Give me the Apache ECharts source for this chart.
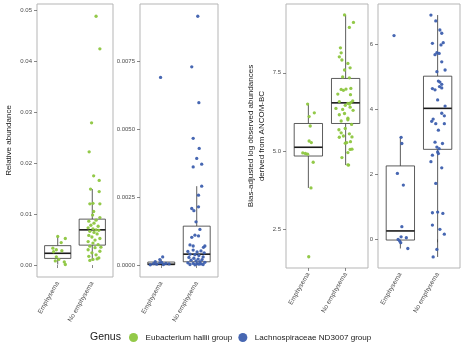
<!DOCTYPE html>
<html><head><meta charset="utf-8">
<script src="https://cdn.jsdelivr.net/npm/echarts@6/dist/echarts.min.js"></script>
<style>html,body{margin:0;padding:0;background:#fff}#c{width:464px;height:348px}</style>
</head><body><div id="c"></div>
<script>
const categories = ['Emphysema', 'No emphysema'];
const genusNames = ['Eubacterium hallii group', 'Lachnospiraceae ND3007 group'];
const genusColors = ['#8dc63f', '#3d5fae'];

// Panel 1: Eubacterium hallii group, relative abundance
const p1EmphX = [1.00, 1.22, 1.10, 0.86, 0.96, 0.88, 1.12, 0.96, 1.03, 0.93, 1.19, 1.22];
const p1EmphY = [0.0056, 0.0052, 0.0044, 0.0033, 0.0030, 0.0026, 0.0028, 0.0016, 0.0011, 0.0008, 0.0006, 0.0001];
const p1NoX = [2.11, 2.22, 1.98, 1.91, 2.04, 2.20, 1.95, 2.20, 1.93, 2.02, 2.22, 2.04, 2.01,
  2.22, 2.11, 1.90, 2.05, 1.96, 2.17, 1.88, 2.02, 2.11, 2.19, 1.93, 2.05, 2.14, 1.90, 1.99, 2.22,
  2.08, 1.88, 2.02, 2.17, 1.93, 2.08, 1.88, 2.22, 1.99, 2.11, 1.90, 2.19, 2.02, 1.93, 2.14, 2.25];
const p1NoY = [0.0488, 0.0424, 0.0279, 0.0222, 0.0175, 0.0166, 0.0149, 0.0144, 0.0120, 0.0121, 0.0120, 0.0105, 0.0098,
  0.0093, 0.0088, 0.0086, 0.0082, 0.0078, 0.0076, 0.0073, 0.0071, 0.0069, 0.0068, 0.0066, 0.0064, 0.0061, 0.0058, 0.0055, 0.0052,
  0.0049, 0.0046, 0.0043, 0.0040, 0.0037, 0.0034, 0.0030, 0.0027, 0.0024, 0.0020, 0.0017, 0.0014, 0.0011, 0.0009, 0.0012, 0.0035];
const p1Box = [[0.0001, 0.0013, 0.0023, 0.0038, 0.0056], [0.0009, 0.0039, 0.0069, 0.0090, 0.0149]];
const p1Ticks = [0, 0.01, 0.02, 0.03, 0.04, 0.05];

// Panel 2: Lachnospiraceae ND3007 group, relative abundance
const p2EmphX = [0.98, 1.04, 0.96, 0.78, 0.87, 0.96, 1.06, 1.13, 0.69, 1.22, 1.01, 0.83];
const p2EmphY = [0.0069, 0.0003, 0.0002, 0.00005, 0.00003, 0.00008, 0.00002, 0.00006, 0.00001, 0.00004, 0.0001, 0.00012];
const p2NoX = [2.03, 1.86, 2.06, 1.90, 2.07, 2.00, 2.14, 1.90, 2.14, 2.05, 2.05, 1.86, 1.92, 1.98, 2.09, 1.95, 2.05, 1.86,
  1.81, 1.90, 2.23, 2.19,
  1.75, 1.90, 2.01, 2.12, 2.21, 1.81, 1.95, 2.06, 2.18, 1.78, 1.92, 2.04, 2.15, 1.84, 1.98, 2.09, 2.23,
  1.75, 1.90, 2.01, 2.12, 1.81, 1.95, 2.06, 2.18];
const p2NoY = [0.00915, 0.00729, 0.00597, 0.00466, 0.00429, 0.00392, 0.00371, 0.00361, 0.0029, 0.00257, 0.00214, 0.00208,
  0.0020, 0.00159, 0.00131, 0.0011, 0.00107, 0.00102, 0.00074, 0.0007, 0.0007, 0.00065,
  0.0005, 0.00055, 0.00048, 0.00052, 0.00045, 0.0004, 0.00038, 0.00035, 0.0003, 0.00028, 0.00025, 0.00022, 0.0002,
  0.00018, 0.00015, 0.00012, 0.0001, 0.00008, 0.00006, 0.00005, 0.00004, 0.00002, 0.00001, 0.00003, 0.00002];
const p2Box = [[0, 0.00001, 0.00003, 0.00011, 0.0002], [0, 0.00012, 0.0004, 0.00143, 0.0029]];
const p2Ticks = [0, 0.0025, 0.005, 0.0075];

// Panel 3: Eubacterium hallii group, bias-adjusted log abundance
const p3EmphX = [0.98, 1.02, 1.16, 1.05, 1.02, 1.08, 0.85, 0.92, 0.98, 1.13, 1.07, 1.01];
const p3EmphY = [6.50, 6.10, 6.22, 5.80, 5.32, 5.27, 4.94, 4.92, 4.90, 4.64, 3.82, 1.62];
const p3NoX = [1.97, 2.21, 2.10, 1.86, 1.88, 1.83, 1.90, 2.06, 2.12, 1.97, 1.92, 2.10, 1.88, 1.94, 2.01, 1.79, 2.13,
  1.83, 2.06, 2.10, 2.14, 1.99, 1.74, 1.92, 1.97, 1.83, 2.06, 1.88, 1.99, 1.82, 1.88, 1.94, 1.83, 2.03, 1.99,
  2.12, 2.17, 1.90, 2.06, 2.08, 2.14, 2.19, 2.12, 2.20, 2.06, 2.16, 2.10, 2.17, 2.13, 2.06];
const p3NoY = [9.35, 9.11, 8.95, 8.30, 8.14, 8.01, 7.91, 7.80, 7.66, 7.59, 7.37, 7.34, 6.97, 6.94, 6.98, 6.82, 6.80,
  6.58, 6.52, 6.50, 6.55, 6.46, 6.36, 6.33, 6.20, 6.16, 6.00, 5.96, 5.72, 5.68, 5.58, 5.48, 5.44, 5.27, 5.25,
  5.05, 5.06, 4.79, 4.56, 4.55, 7.00, 6.60, 6.40, 6.30, 6.05, 5.85, 5.55, 5.45, 5.30, 4.95];
const p3Box = [[3.82, 4.84, 5.12, 5.88, 6.50], [4.55, 5.88, 6.54, 7.32, 9.35]];
const p3Ticks = [2.5, 5.0, 7.5];

// Panel 4: Lachnospiraceae ND3007 group, bias-adjusted log abundance
const p4EmphX = [0.83, 1.02, 1.04, 0.92, 1.08, 1.04, 1.02, 1.16, 0.94, 0.98, 1.01, 1.20];
const p4EmphY = [6.27, 3.14, 2.95, 2.03, 1.67, 0.39, 0.08, 0.05, 0.0, -0.05, -0.1, -0.28];
const p4NoX = [1.82, 1.95, 2.06, 2.11, 1.86, 2.15, 2.09, 1.98, 2.04, 1.93, 2.11, 2.20, 1.98, 2.02, 2.06, 2.11,
  2.05, 1.86, 1.93, 2.11, 2.00, 2.20, 2.11, 2.18, 1.88, 1.84, 1.95, 2.18, 2.02, 2.13, 1.93, 1.98, 2.04, 2.00,
  2.02, 1.86, 1.82, 2.11, 1.95, 1.86, 2.00, 2.14, 1.86, 2.06, 2.18, 1.98, 1.88];
const p4NoY = [6.90, 6.72, 6.44, 6.34, 6.03, 6.05, 5.98, 5.74, 5.72, 5.68, 5.46, 5.21, 5.16, 4.87, 4.84, 4.77,
  4.70, 4.64, 4.60, 4.66, 4.29, 4.10, 3.88, 3.80, 3.70, 3.63, 3.56, 3.56, 3.36, 2.95, 2.99, 2.84, 2.79, 2.69,
  2.64, 2.59, 2.39, 2.20, 1.72, 0.82, 0.84, 0.80, 0.44, 0.31, 0.16, -0.31, -0.54];
const p4Box = [[-0.28, -0.02, 0.26, 2.26, 3.14], [-0.54, 2.77, 4.03, 5.02, 6.90]];
const p4Ticks = [0, 2, 4, 6];

const FONT = '"Liberation Sans", Arial, sans-serif';
const panels = [
  {grid: {left: 37, top: 4, width: 76, height: 273}, ymin: -0.00235, ymax: 0.0512, ticks: p1Ticks, dec: 2,
   genus: 0, ex: p1EmphX, ey: p1EmphY, nx: p1NoX, ny: p1NoY, box: p1Box,
   name: 'Relative abundance', nameGap: 23},
  {grid: {left: 140, top: 4, width: 78, height: 273}, ymin: -0.00044, ymax: 0.0096, ticks: p2Ticks, dec: 4,
   genus: 1, ex: p2EmphX, ey: p2EmphY, nx: p2NoX, ny: p2NoY, box: p2Box, name: ''},
  {grid: {left: 286, top: 4, width: 82, height: 264}, ymin: 1.26, ymax: 9.70, ticks: p3Ticks, dec: 1,
   genus: 0, ex: p3EmphX, ey: p3EmphY, nx: p3NoX, ny: p3NoY, box: p3Box,
   name: 'Bias-adjusted log observed abundances\nderived from ANCOM-BC', nameGap: 19},
  {grid: {left: 378, top: 4, width: 82, height: 264}, ymin: -0.88, ymax: 7.24, ticks: p4Ticks, dec: 0,
   genus: 1, ex: p4EmphX, ey: p4EmphY, nx: p4NoX, ny: p4NoY, box: p4Box, name: ''}
];

const grids = [], xAxes = [], yAxes = [], series = [];
const BOX_HALF = 0.38;
panels.forEach((p, i) => {
  grids.push(Object.assign({show: true, borderColor: '#b5b5b5', borderWidth: 1, backgroundColor: '#fff'}, p.grid));
  xAxes.push({
    type: 'value', gridIndex: i, min: 0.4, max: 2.6,
    axisLine: {show: false}, splitLine: {show: false},
    axisTick: {show: true, length: 3, customValues: [1, 2], lineStyle: {color: '#555', width: 0.7}},
    axisLabel: {show: true, customValues: [1, 2], rotate: 60, margin: 5, fontSize: 6.5, color: '#4d4d4d',
      fontFamily: FONT, formatter: v => categories[Math.round(v) - 1] || ''}
  });
  yAxes.push({
    type: 'value', gridIndex: i, min: p.ymin, max: p.ymax,
    axisLine: {show: false}, splitLine: {show: false},
    axisTick: {show: true, length: 3, customValues: p.ticks, lineStyle: {color: '#555', width: 0.7}},
    axisLabel: {show: true, customValues: p.ticks, margin: 5, fontSize: 6, color: '#4d4d4d', fontFamily: FONT,
      formatter: v => Number(v).toFixed(p.dec)},
    name: p.name, nameLocation: 'middle', nameGap: p.nameGap || 20,
    nameTextStyle: {fontSize: 8, color: '#1a1a1a', fontFamily: FONT, lineHeight: 10.5}
  });
  series.push({
    type: 'custom', xAxisIndex: i, yAxisIndex: i, silent: true, z: 2,
    data: p.box.map((b, k) => [k + 1].concat(b)),
    encode: {x: 0, y: [1, 2, 3, 4, 5]},
    renderItem: (params, api) => {
      const x = api.value(0);
      const pMin = api.coord([x, api.value(1)]);
      const pQ1 = api.coord([x, api.value(2)]);
      const pMed = api.coord([x, api.value(3)]);
      const pQ3 = api.coord([x, api.value(4)]);
      const pMax = api.coord([x, api.value(5)]);
      const l = api.coord([x - BOX_HALF, api.value(3)])[0];
      const r = api.coord([x + BOX_HALF, api.value(3)])[0];
      const st = {stroke: '#333', lineWidth: 0.8, fill: null};
      return {type: 'group', children: [
        {type: 'line', shape: {x1: pMax[0], y1: pMax[1], x2: pQ3[0], y2: pQ3[1]}, style: st},
        {type: 'line', shape: {x1: pMin[0], y1: pMin[1], x2: pQ1[0], y2: pQ1[1]}, style: st},
        {type: 'rect', shape: {x: l, y: pQ3[1], width: r - l, height: pQ1[1] - pQ3[1]},
          style: {stroke: '#333', lineWidth: 0.8, fill: '#fff'}},
        {type: 'line', shape: {x1: l, y1: pMed[1], x2: r, y2: pMed[1]}, style: {stroke: '#1a1a1a', lineWidth: 1.6}}
      ]};
    }
  });
  const pts = p.ex.map((x, k) => [x, p.ey[k]]).concat(p.nx.map((x, k) => [x, p.ny[k]]));
  series.push({
    type: 'scatter', name: genusNames[p.genus], xAxisIndex: i, yAxisIndex: i, z: 3,
    symbol: 'circle', symbolSize: 3.3, data: pts,
    itemStyle: {color: genusColors[p.genus], opacity: 0.95}
  });
});

const chart = echarts.init(document.getElementById('c'), null, {renderer: 'canvas'});
chart.setOption({
  animation: false,
  backgroundColor: '#fff',
  textStyle: {fontFamily: FONT},
  title: {text: 'Genus', left: 90, top: 332, padding: 0,
    textStyle: {fontSize: 10.5, fontWeight: 'normal', color: '#1a1a1a', fontFamily: FONT}},
  legend: {
    data: genusNames, left: 129, top: 333, padding: 0, itemGap: 6,
    icon: 'circle', itemWidth: 14, itemHeight: 9,
    textStyle: {fontSize: 8.1, color: '#1a1a1a', fontFamily: FONT}
  },
  grid: grids, xAxis: xAxes, yAxis: yAxes, series: series
});
</script></body></html>
